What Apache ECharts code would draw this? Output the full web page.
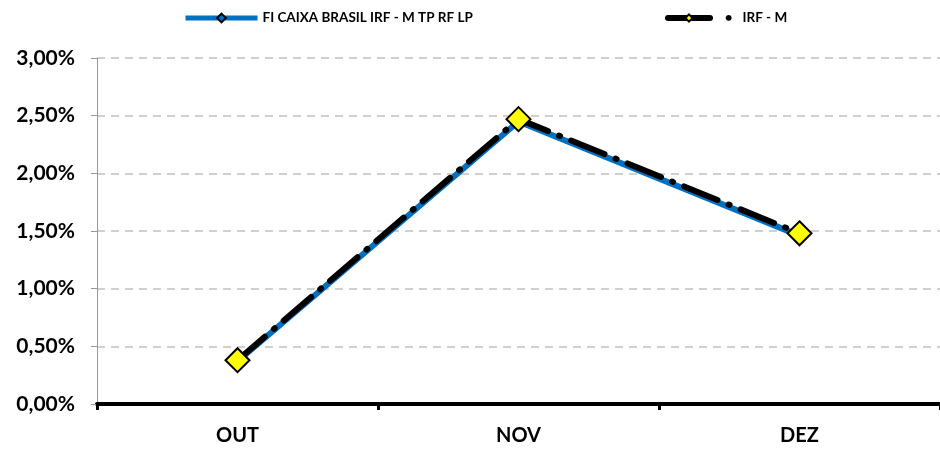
<!DOCTYPE html>
<html lang="pt">
<head>
    <meta charset="UTF-8">
    <title>rentabilidade</title>
    <script src="https://cdn.jsdelivr.net/npm/echarts@6/dist/echarts.min.js"></script>
</head>
<body style="margin:0">
<div id="chart" style="width: 940px;height:449px;"></div>
<script>
    // meses e rentabilidade mensal (%)
    let meses = ['OUT', 'NOV', 'DEZ']
    let fundo = [0.37, 2.45, 1.46]
    let irfm = [0.38, 2.47, 1.48]
    let yTicks = [0, 0.5, 1, 1.5, 2, 2.5, 3]

    let chart = echarts.init(document.getElementById('chart'));
    let fonte = 'Lato, "Open Sans", sans-serif';

    function pct(v) {
        return v.toFixed(2).replace('.', ',') + '%';
    }

    let option = {
        animation: false,
        textStyle: {fontFamily: fonte},
        legend: [{
            top: 11,
            left: 183,
            padding: 0,
            itemWidth: 72,
            itemHeight: 11,
            data: ['FI CAIXA BRASIL IRF - M TP RF LP'],
            lineStyle: {width: 5},
            textStyle: {fontSize: 13.5, fontWeight: 'bold', color: '#000', fontFamily: fonte}
        }, {
            top: 11,
            left: 665,
            padding: 0,
            itemWidth: 42,
            itemHeight: 9,
            data: [{name: 'IRF - M', lineStyle: {type: 'solid', width: 6}}],
            lineStyle: {width: 6, type: 'solid'},
            formatter: function (name) {
                return '   •   ' + name;
            },
            textStyle: {fontSize: 13.5, fontWeight: 'bold', color: '#000', fontFamily: fonte}
        }],
        grid: {left: 97, right: 0, top: 58, bottom: 45},
        xAxis: {
            type: 'category',
            data: meses,
            boundaryGap: true,
            axisLine: {lineStyle: {color: '#000', width: 4}},
            axisTick: {show: true, length: 6, lineStyle: {color: '#000', width: 3}},
            axisLabel: {fontSize: 20, fontWeight: 'bold', color: '#000', margin: 22}
        },
        yAxis: {
            type: 'value',
            min: yTicks[0],
            max: yTicks[yTicks.length - 1],
            interval: 0.5,
            axisLine: {show: true, lineStyle: {color: '#999', width: 1}},
            axisTick: {show: true, length: 6, lineStyle: {color: '#999'}},
            axisLabel: {
                fontSize: 21, fontWeight: 'bold', color: '#000', margin: 22,
                formatter: pct
            },
            splitLine: {lineStyle: {color: '#d0d0d0', type: [8, 6], width: 2}}
        },
        series: [{
            name: 'FI CAIXA BRASIL IRF - M TP RF LP',
            type: 'line',
            data: fundo,
            symbol: 'diamond',
            symbolSize: 9,
            itemStyle: {color: '#0070C0', borderColor: '#000', borderWidth: 1.5},
            lineStyle: {color: '#0070C0', width: 6}
        }, {
            name: 'IRF - M',
            type: 'line',
            data: irfm,
            symbol: 'diamond',
            symbolSize: 24,
            itemStyle: {color: '#FFFF00', borderColor: '#000', borderWidth: 2},
            lineStyle: {color: '#000', width: 6, type: [36, 12, 1, 12], cap: 'round'},
            z: 3
        }]
    };
    chart.setOption(option);
</script>
</body>
</html>
